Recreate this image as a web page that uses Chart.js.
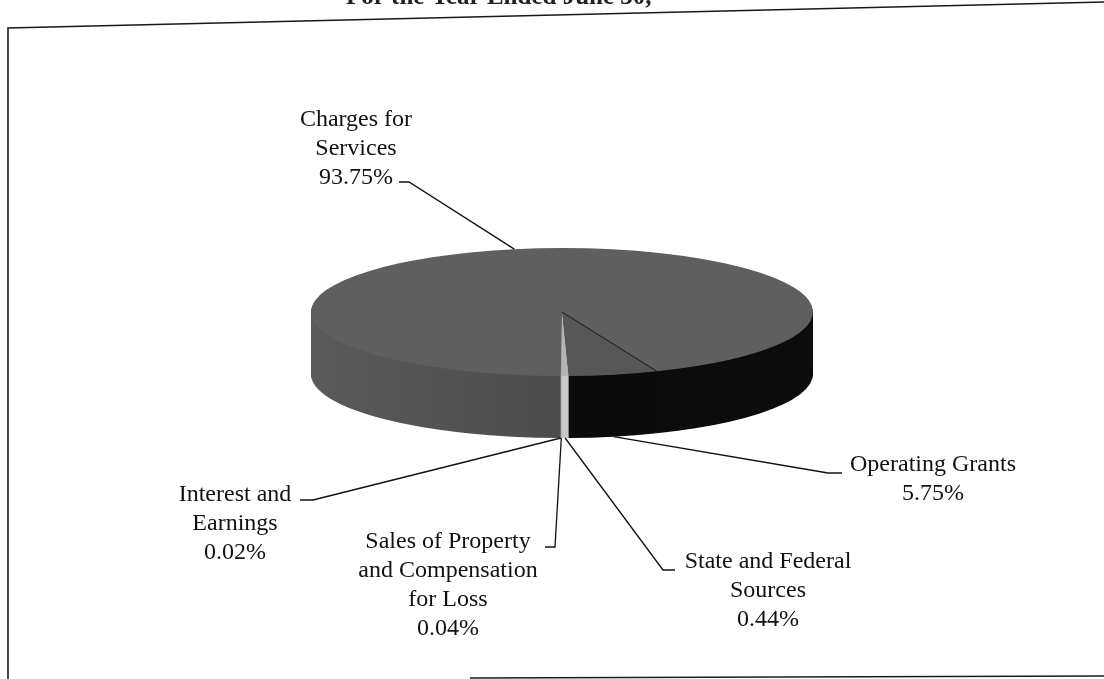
<!DOCTYPE html>
<html>
<head>
<meta charset="utf-8">
<script src="https://cdn.jsdelivr.net/npm/chart.js@4.4.1/dist/chart.umd.min.js"></script>
<style>
  html, body { margin: 0; padding: 0; background: #fff; }
  canvas { display: block; }
</style>
</head>
<body>
<canvas id="revChart" width="1104" height="679"></canvas>
<script>
// Revenue shares
const categories = [
  "Charges for Services",
  "Operating Grants",
  "State and Federal Sources",
  "Sales of Property and Compensation for Loss",
  "Interest and Earnings"
];
const shares = [93.75, 5.75, 0.44, 0.04, 0.02];
const labelLines = [
  ["Charges for", "Services"],
  ["Operating Grants"],
  ["State and Federal", "Sources"],
  ["Sales of Property", "and Compensation", "for Loss"],
  ["Interest and", "Earnings"]
];
const titleText = "For the Year Ended June 30,";

// look of the tilted pie
const pieTilt = 64 / 251;   // ellipse height / width
const pieDepth = 62;        // thickness in px
const pieCenterY = 312;     // screen y of the top face centre
const topColors = ["#5f5f5f", "#575757", "#b4b4b4", "#a4a4a4", "#949494"];
const sideColors = [null, "#0c0c0c", "#c8c8c8", "#b8b8b8", "#a8a8a8"];

// where each label sits (centre x, first line y) and its leader elbow
const labelPos = [
  { x: 356, y: 120, elbow: [409, 182], end: [399, 182], top: true },
  { x: 933, y: 465, elbow: [828, 473], end: [842, 473] },
  { x: 768, y: 562, elbow: [663, 570], end: [675, 570] },
  { x: 448, y: 542, elbow: [555, 547], end: [545, 547] },
  { x: 235, y: 495, elbow: [313, 500], end: [300, 500] }
];
const lineGap = 29;

function squash(ctx, circleY, dy) {
  ctx.translate(0, pieCenterY + dy);
  ctx.scale(1, pieTilt);
  ctx.translate(0, -circleY);
}

function ellipsePoint(el, angle, dy) {
  const r = el.outerRadius;
  return [el.x + r * Math.cos(angle), pieCenterY + r * pieTilt * Math.sin(angle) + dy];
}

const pie3d = {
  id: "pie3d",
  beforeDraw(chart) {
    const ctx = chart.ctx;
    ctx.save();
    ctx.fillStyle = "#fff";
    ctx.fillRect(0, 0, chart.width, chart.height);
    // scanned frame round the chart
    ctx.strokeStyle = "#1a1a1a";
    ctx.lineWidth = 1.6;
    ctx.beginPath();
    ctx.moveTo(1104, 2);
    ctx.lineTo(8, 28);
    ctx.lineTo(8, 679);
    ctx.moveTo(470, 678);
    ctx.lineTo(1104, 676);
    ctx.stroke();
    // title, cut off by the top of the page
    ctx.fillStyle = "#222";
    ctx.font = "bold 25px 'Liberation Serif'";
    ctx.textAlign = "left";
    ctx.textBaseline = "alphabetic";
    ctx.fillText(titleText, 346, 4);
    ctx.restore();
  },
  beforeDatasetsDraw(chart) {
    const ctx = chart.ctx;
    const arcs = chart.getDatasetMeta(0).data;
    const cx = arcs[0].x, cy = arcs[0].y, r = arcs[0].outerRadius;
    // side of the big slice: lit on the left, in shadow on the right
    const grad = ctx.createLinearGradient(cx - r, 0, cx + r, 0);
    const stop = 0.5 + 7 / (2 * r);
    grad.addColorStop(0, "#5a5a5a");
    grad.addColorStop(stop, "#4c4c4c");
    grad.addColorStop(stop + 0.002, "#0c0c0c");
    grad.addColorStop(1, "#0c0c0c");
    for (let d = pieDepth; d >= 1; d--) {
      ctx.save();
      squash(ctx, cy, d);
      arcs.forEach((el, i) => {
        const side = Object.create(el);
        side.options = Object.assign({}, el.options, {
          backgroundColor: i === 0 ? grad : sideColors[i],
          borderWidth: 0
        });
        side.draw(ctx);
      });
      ctx.restore();
    }
    ctx.save();
    squash(ctx, cy, 0);
  },
  afterDatasetsDraw(chart) {
    const ctx = chart.ctx;
    ctx.restore();
    const arcs = chart.getDatasetMeta(0).data;
    // slice edge on the top face
    const el = arcs[1];
    const p = ellipsePoint(el, el.startAngle, 0);
    ctx.save();
    ctx.strokeStyle = "#1e1e1e";
    ctx.lineWidth = 1;
    ctx.beginPath();
    ctx.moveTo(el.x, pieCenterY);
    ctx.lineTo(p[0], p[1]);
    ctx.stroke();
    ctx.restore();
  },
  afterDraw(chart) {
    const ctx = chart.ctx;
    const arcs = chart.getDatasetMeta(0).data;
    ctx.save();
    ctx.strokeStyle = "#111";
    ctx.lineWidth = 1.3;
    ctx.fillStyle = "#111";
    ctx.font = "24px 'Liberation Serif'";
    ctx.textAlign = "center";
    ctx.textBaseline = "middle";
    arcs.forEach((el, i) => {
      const pos = labelPos[i];
      const mid = (el.startAngle + el.endAngle) / 2;
      const a = ellipsePoint(el, mid, pos.top ? 0 : pieDepth);
      ctx.beginPath();
      ctx.moveTo(a[0], a[1]);
      ctx.lineTo(pos.elbow[0], pos.elbow[1]);
      ctx.lineTo(pos.end[0], pos.end[1]);
      ctx.stroke();
      const lines = labelLines[i].concat([shares[i].toFixed(2) + "%"]);
      lines.forEach((t, k) => ctx.fillText(t, pos.x, pos.y + k * lineGap));
    });
    ctx.restore();
  }
};

new Chart(document.getElementById("revChart").getContext("2d"), {
  type: "pie",
  data: {
    labels: categories,
    datasets: [
      {
        data: shares,
        backgroundColor: topColors,
        borderWidth: 0,
        hoverOffset: 0,
        clip: false
      }
    ]
  },
  options: {
    responsive: false,
    animation: false,
    rotation: 180.3,
    layout: { padding: { left: 311, right: 291, top: 88, bottom: 89 } },
    plugins: {
      legend: { display: false },
      tooltip: { enabled: false }
    }
  },
  plugins: [pie3d]
});
</script>
</body>
</html>
